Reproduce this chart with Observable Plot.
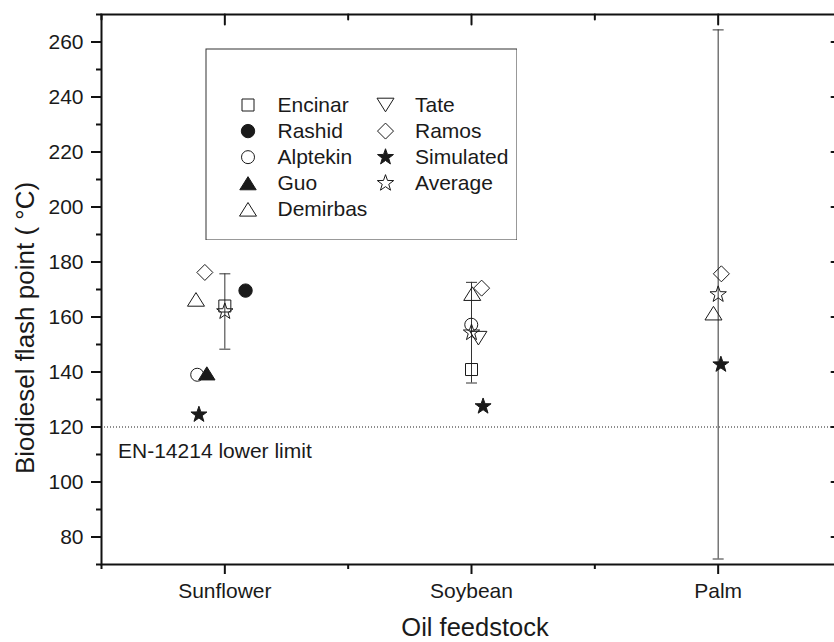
<!DOCTYPE html>
<html>
<head>
<meta charset="utf-8">
<script src="https://cdn.jsdelivr.net/npm/d3@7"></script>
<script src="https://cdn.jsdelivr.net/npm/@observablehq/plot@0.6"></script>
<style>
  html, body { margin: 0; padding: 0; background: #fff; overflow: hidden; }
  #wrap { position: relative; width: 834px; height: 642px; overflow: hidden; }
  #legend { position: absolute; left: 204.5px; top: 47.5px; }
</style>
</head>
<body>
<div id="wrap"><div id="chart"></div><div id="legend"></div></div>
<script>
// ---------- data ----------
const feedstocks = ["Sunflower", "Soybean", "Palm"];
const xMajorTicks = [1, 2, 3];
const xMinorTicks = [0.5, 1.5, 2.5, 3.5];
const yMajorTicks = [80, 100, 120, 140, 160, 180, 200, 220, 240, 260];
const yMinorTicks = [70, 90, 110, 130, 150, 170, 190, 210, 230, 250, 270];

const xTitle = "Oil feedstock";
const yTitle = "Biodiesel flash point ( °C)";
const limitValue = 120;
const limitLabel = "EN-14214 lower limit";

// [feedstock position, flash point °C]
const encinar   = [[1.000, 164.0], [2.000, 140.9]];
const rashid    = [[1.084, 169.6]];
const alptekin  = [[0.888, 139.0], [1.999, 157.2]];
const guo       = [[0.927, 139.5]];
const demirbas  = [[0.883, 166.4], [2.003, 168.5], [2.981, 161.4]];
const tate      = [[2.028, 152.3]];
const ramos     = [[0.919, 176.2], [2.041, 170.5], [3.013, 175.7]];
const simulated = [[0.895, 124.5], [2.047, 127.5], [3.011, 142.7]];
const average   = [[1.000, 162.0], [2.000, 154.3], [3.000, 168.2]];
const averageError = [13.7, 18.3, 96.2];

const seriesNames = ["Encinar", "Rashid", "Alptekin", "Guo", "Demirbas", "Tate", "Ramos", "Simulated", "Average"];
const seriesValues = [encinar, rashid, alptekin, guo, demirbas, tate, ramos, simulated, average];

// ---------- styles ----------
const FONT = '"Liberation Sans", Arial, Helvetica, sans-serif';
const INK = "#1a1a1a";
const rOf = size => Math.sqrt(size / Math.PI);
const sym = {
  square:  {draw(c, s) { const r = rOf(s); c.rect(-r, -r, 2 * r, 2 * r); }},
  circle:  {draw(c, s) { const r = rOf(s); c.moveTo(r, 0); c.arc(0, 0, r, 0, 2 * Math.PI); }},
  triUp:   {draw(c, s) { const r = rOf(s); c.moveTo(0, -0.8 * r); c.lineTo(r, 0.8 * r); c.lineTo(-r, 0.8 * r); c.closePath(); }},
  triDown: {draw(c, s) { const r = rOf(s); c.moveTo(0, 0.8 * r); c.lineTo(r, -0.8 * r); c.lineTo(-r, -0.8 * r); c.closePath(); }},
  diamond: {draw(c, s) { const r = rOf(s); c.moveTo(0, -r); c.lineTo(r, 0); c.lineTo(0, r); c.lineTo(-r, 0); c.closePath(); }},
  star:    {draw(c, s) {
    const R = rOf(s), ri = R * 0.4;
    for (let i = 0; i < 10; i++) {
      const a = -Math.PI / 2 + i * Math.PI / 5, rr = i % 2 ? ri : R;
      const px = rr * Math.cos(a), py = rr * Math.sin(a);
      if (i === 0) c.moveTo(px, py); else c.lineTo(px, py);
    }
    c.closePath();
  }},
  cap:     {draw(c, s) { const r = rOf(s); c.moveTo(-r, 0); c.lineTo(r, 0); }}
};
const seriesStyle = {
  Encinar:   {symbol: sym.square,  fill: "none", r: 6},
  Rashid:    {symbol: sym.circle,  fill: INK,    r: 6.7},
  Alptekin:  {symbol: sym.circle,  fill: "none", r: 6.5},
  Guo:       {symbol: sym.triUp,   fill: INK,    r: 8.2},
  Demirbas:  {symbol: sym.triUp,   fill: "none", r: 8.5},
  Tate:      {symbol: sym.triDown, fill: "none", r: 8.5},
  Ramos:     {symbol: sym.diamond, fill: "none", r: 8},
  Simulated: {symbol: sym.star,    fill: INK,    r: 8.4},
  Average:   {symbol: sym.star,    fill: "none", r: 8.6}
};

const avgRows = average.map(([x, y], i) => ({x, y, err: averageError[i]}));
const tickShape = {draw(c, l) { c.moveTo(0, 0); c.lineTo(0, -l); }};

const seriesMarks = seriesNames.map((name, i) => {
  const st = seriesStyle[name];
  return Plot.dot(seriesValues[i], {
    x: d => d[0], y: d => d[1],
    symbol: st.symbol, r: st.r, fill: st.fill, stroke: INK, strokeWidth: 1
  });
});

const chart = Plot.plot({
  width: 834, height: 642,
  marginLeft: 101, marginTop: 14, marginBottom: 78, marginRight: -7,
  style: {fontFamily: FONT, fontSize: "21px", color: INK, background: "white"},
  x: {type: "linear", domain: [0.5, 3.5]},
  y: {type: "linear", domain: [70, 270]},
  marks: [
    Plot.ruleY([limitValue], {stroke: INK, strokeWidth: 1, strokeDasharray: "1,2"}),
    Plot.text([limitLabel], {x: 0.5, y: limitValue, text: d => d, dx: 16.5, dy: 31,
      textAnchor: "start", lineAnchor: "bottom", fontSize: 21}),
    Plot.ruleX(avgRows, {x: "x", y1: d => d.y - d.err, y2: d => d.y + d.err, stroke: "#333", strokeWidth: 1}),
    Plot.dot(avgRows, {x: "x", y: d => d.y + d.err, symbol: sym.cap, r: 5.5, stroke: "#333", strokeWidth: 1}),
    Plot.dot(avgRows, {x: "x", y: d => d.y - d.err, symbol: sym.cap, r: 5.5, stroke: "#333", strokeWidth: 1}),
    ...seriesMarks,
    Plot.frame({stroke: "#111", strokeWidth: 2}),
    Plot.axisY(yMajorTicks, {anchor: "left", tickSize: 10, tickPadding: 8, strokeWidth: 2, stroke: "#111",
      fontSize: 21, tickFormat: d => String(d), label: null}),
    Plot.axisY(yMinorTicks, {anchor: "left", tickSize: 5, strokeWidth: 2, stroke: "#111", fill: "none", label: null}),
    Plot.axisX(xMajorTicks, {anchor: "bottom", tickSize: 10, tickPadding: 8.5, strokeWidth: 2, stroke: "#111",
      fontSize: 21, tickFormat: d => feedstocks[d - 1], label: null}),
    Plot.axisX(xMinorTicks, {anchor: "bottom", tickSize: 5, strokeWidth: 2, stroke: "#111", fill: "none", label: null}),
    // inward ticks on top and right edges
    Plot.vector(xMajorTicks, {x: d => d, frameAnchor: "top", length: 10, rotate: 180, anchor: "start",
      shape: tickShape, stroke: "#111", strokeWidth: 2}),
    Plot.vector(xMinorTicks, {x: d => d, frameAnchor: "top", length: 5, rotate: 180, anchor: "start",
      shape: tickShape, stroke: "#111", strokeWidth: 2}),
    Plot.vector(yMajorTicks, {y: d => d, frameAnchor: "right", length: 10, rotate: -90, anchor: "start",
      shape: tickShape, stroke: "#111", strokeWidth: 2}),
    Plot.vector(yMinorTicks, {y: d => d, frameAnchor: "right", length: 5, rotate: -90, anchor: "start",
      shape: tickShape, stroke: "#111", strokeWidth: 2}),
    // axis titles
    Plot.text([xTitle], {frameAnchor: "bottom", text: d => d, dx: 3.5, dy: 71.5,
      lineAnchor: "bottom", textAnchor: "middle", fontSize: 25.5}),
    Plot.text([yTitle], {frameAnchor: "left", text: d => d, rotate: -90, dx: -67.7, dy: 38.5,
      lineAnchor: "bottom", textAnchor: "middle", fontSize: 26})
  ]
});
document.getElementById("chart").appendChild(chart);

// ---------- legend (inside the frame, top-left) ----------
const legendRows = seriesNames.map((name, i) => ({name, col: i < 5 ? 0 : 1, row: i % 5}));
const legend = Plot.plot({
  width: 312, height: 192, margin: 0,
  style: {fontFamily: FONT, fontSize: "21px", color: INK, background: "white"},
  x: {type: "linear", domain: [0, 1], range: [42.5, 180], axis: null},
  y: {type: "linear", domain: [0, 4], range: [56.5, 160.8], axis: null},
  marks: [
    Plot.frame({stroke: "#333", strokeWidth: 1, inset: 0.5}),
    ...legendRows.map(d => {
      const st = seriesStyle[d.name];
      return Plot.dot([d], {x: "col", y: "row", symbol: st.symbol, r: st.r, fill: st.fill, stroke: INK, strokeWidth: 1});
    }),
    Plot.text(legendRows, {x: "col", y: "row", text: "name", dx: 29.5, textAnchor: "start", fontSize: 21})
  ]
});
document.getElementById("legend").appendChild(legend);
</script>
</body>
</html>
